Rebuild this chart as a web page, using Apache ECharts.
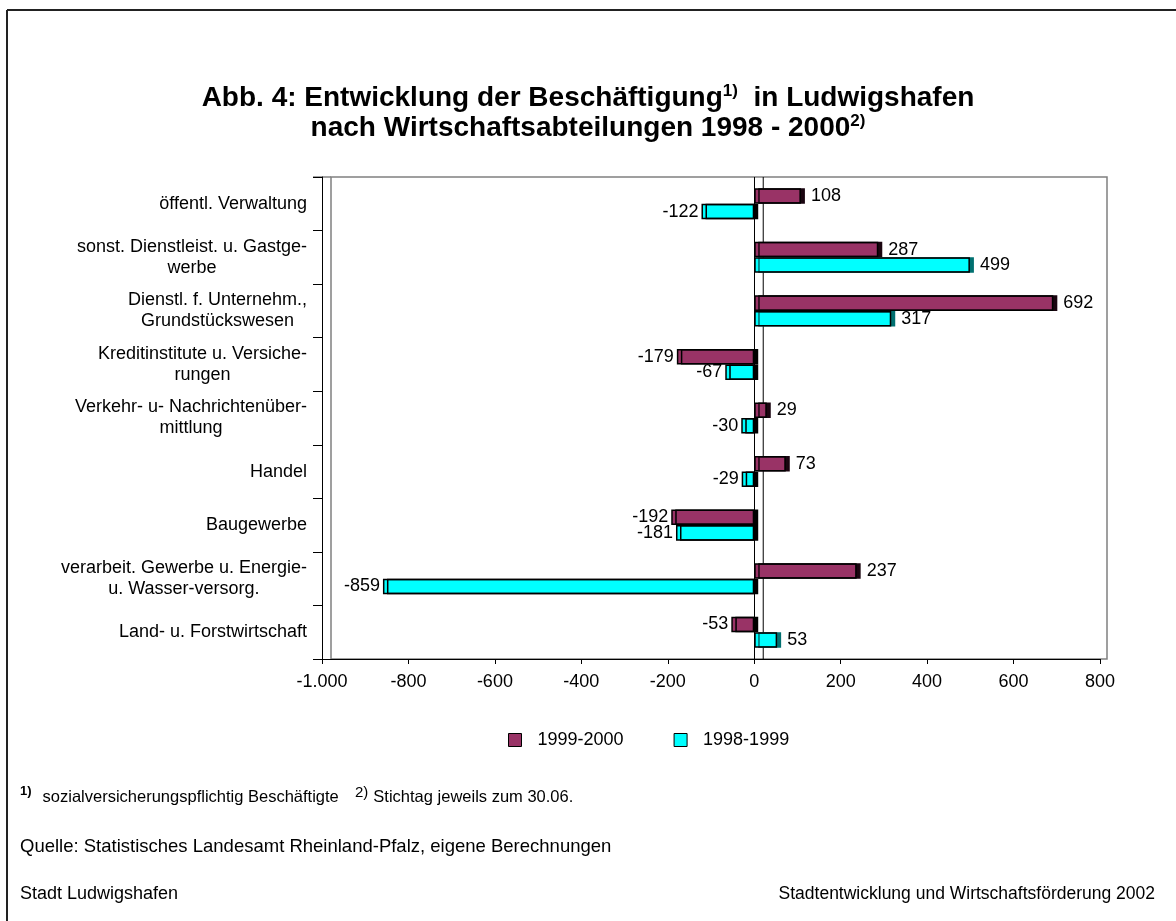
<!DOCTYPE html>
<html><head><meta charset="utf-8">
<script src="https://cdn.jsdelivr.net/npm/echarts@6/dist/echarts.min.js"></script>
<style>html,body{margin:0;padding:0;background:#fff}#c{width:1176px;height:921px}</style>
</head><body><div id="c"></div>
<script>
// Categories, bottom to top (ECharts category y axis starts at bottom)
const categories = [
  'Land- u. Forstwirtschaft',
  'verarbeit. Gewerbe u. Energie-\nu. Wasser-versorg.',
  'Baugewerbe',
  'Handel',
  'Verkehr- u- Nachrichtenüber-\nmittlung',
  'Kreditinstitute u. Versiche-\nrungen',
  'Dienstl. f. Unternehm.,\nGrundstückswesen',
  'sonst. Dienstleist. u. Gastge-\nwerbe',
  'öffentl. Verwaltung'
];
const seriesNames = ['1999-2000', '1998-1999'];
const values9900 = [-53, 237, -192, 73, 29, -179, 692, 287, 108];
const values9899 = [53, -859, -181, -29, -30, -67, 317, 499, -122];
const xMin = -1000, xMax = 800, xStep = 200;

const FONT = '"Liberation Sans", Arial, sans-serif';
const MAROON = '#993366', CYAN = '#00FFFF';

function fmtDE(v) {
  const s = Math.abs(v).toString().replace(/\B(?=(\d{3})+(?!\d))/g, '.');
  return (v < 0 ? '-' : '') + s;
}
function items(vals, posShadow) {
  return vals.map(v => ({
    value: v,
    itemStyle: { shadowColor: v < 0 ? '#000' : posShadow },
    label: { position: v < 0 ? 'left' : 'right', distance: v < 0 ? 3 : 10 }
  }));
}

const chart = echarts.init(document.getElementById('c'), null, { renderer: 'canvas' });
const barCommon = {
  type: 'bar',
  barWidth: '29%',
  barGap: '0%',
  label: { show: true, color: '#000', fontSize: 18, fontFamily: FONT, formatter: p => fmtDE(p.value) },
  emphasis: { disabled: true },
  animation: false
};
const txt = (size, weight) => ({ fontSize: size, fontWeight: weight || 'normal', fontFamily: FONT, color: '#000' });
const option = {
  backgroundColor: '#fff',
  animation: false,
  textStyle: { fontFamily: FONT },
  title: [
    {
      left: 'center', top: 78,
      text: '{m|Abb. 4: Entwicklung der Beschäftigung}{s|1)}{m|  in Ludwigshafen}\n{m|nach Wirtschaftsabteilungen 1998 - 2000}{s|2)}',
      textStyle: {
        rich: {
          m: Object.assign(txt(28, 'bold'), { lineHeight: 30, align: 'center' }),
          s: Object.assign(txt(17, 'bold'), { lineHeight: 30, align: 'center', verticalAlign: 'top', padding: [0, 0, 8, 0] })
        }
      }
    },
    {
      left: 15, top: 780,
      text: '{s|1)} {m|sozialversicherungspflichtig Beschäftigte}',
      textStyle: { rich: {
        m: Object.assign(txt(16.5), { lineHeight: 24, padding: [0, 0, 0, 6] }),
        s: Object.assign(txt(13, 'bold'), { lineHeight: 24, verticalAlign: 'top', padding: [0, 0, 6, 0] })
      } }
    },
    {
      left: 350, top: 780,
      text: '{s|2)} {m|Stichtag jeweils zum 30.06.}',
      textStyle: { rich: {
        m: Object.assign(txt(16.5), { lineHeight: 24 }),
        s: Object.assign(txt(15), { lineHeight: 24, verticalAlign: 'top', padding: [0, 0, 6, 0] })
      } }
    },
    { left: 15, top: 832, text: 'Quelle: Statistisches Landesamt Rheinland-Pfalz, eigene Berechnungen', textStyle: txt(18.5) },
    { left: 15, top: 880, text: 'Stadt Ludwigshafen', textStyle: txt(18) },
    { right: 16, top: 880, text: 'Stadtentwicklung und Wirtschaftsförderung 2002', textStyle: txt(17.5) }
  ],
  legend: {
    data: seriesNames,
    left: 503, top: 726,
    icon: 'rect', itemWidth: 13, itemHeight: 13, itemGap: 50,
    itemStyle: { borderColor: '#000', borderWidth: 1, shadowBlur: 0, shadowOffsetX: 0, shadowColor: 'rgba(0,0,0,0)' },
    textStyle: Object.assign(txt(18), { padding: [0, 0, 0, 11] })
  },
  grid: { left: 322, right: 76, top: 177, bottom: 262, containLabel: false, outerBoundsMode: 'none' },
  xAxis: {
    type: 'value', min: xMin, max: xMax, interval: xStep,
    axisLine: { show: true, onZero: false, lineStyle: { color: '#000', width: 1 } },
    axisTick: { show: true, length: 5, lineStyle: { color: '#000' } },
    axisLabel: Object.assign(txt(18), { margin: 14, formatter: fmtDE }),
    splitLine: { show: false }
  },
  yAxis: {
    type: 'category', data: categories,
    axisLine: { show: true, onZero: false, lineStyle: { color: '#000', width: 1 } },
    axisTick: { show: true, length: 9, inside: false, lineStyle: { color: '#000' } },
    axisLabel: {
      margin: 15, color: '#000',
      formatter: v => v.split('\n').map(l => '{c|' + l + '}').join('\n'),
      rich: { c: Object.assign(txt(18), { align: 'center', lineHeight: 21 }) }
    },
    splitLine: { show: false }
  },
  series: [
    Object.assign({}, barCommon, {
      name: seriesNames[0],
      data: items(values9900, '#1a0510'),
      itemStyle: { color: MAROON, borderColor: '#000', borderWidth: 1.5, shadowBlur: 0, shadowOffsetX: 4, shadowOffsetY: 0 },
      markLine: {
        silent: true, symbol: ['none', 'none'], label: { show: false },
        lineStyle: { color: '#000', width: 1, type: 'solid' },
        data: [{ xAxis: 0 }], animation: false
      }
    }),
    Object.assign({}, barCommon, {
      name: seriesNames[1],
      data: items(values9899, '#007070'),
      itemStyle: { color: CYAN, borderColor: '#000', borderWidth: 1.5, shadowBlur: 0, shadowOffsetX: 4, shadowOffsetY: 0 }
    })
  ]
};
chart.setOption(option);

// decorative frame: back wall of the 3D plot, zero line on back wall, page border
const x0 = chart.convertToPixel({ xAxisIndex: 0 }, 0);
const xL = chart.convertToPixel({ xAxisIndex: 0 }, xMin);
const xR = chart.convertToPixel({ xAxisIndex: 0 }, xMax);
const yTop = 177, yBot = 921 - 262;
chart.setOption({
  graphic: [
    { id: 'wall', type: 'rect', z: -1, silent: true,
      shape: { x: xL + 9, y: yTop, width: xR + 7 - (xL + 9), height: yBot - yTop },
      style: { fill: 'none', stroke: '#808080', lineWidth: 1.5 } },
    { id: 'topTick', type: 'line', z: -1, silent: true,
      shape: { x1: xL - 9, y1: yTop, x2: xL + 9, y2: yTop },
      style: { stroke: '#808080', lineWidth: 1.5 } },
    { id: 'zeroBack', type: 'line', z: -1, silent: true,
      shape: { x1: x0 + 9, y1: yTop, x2: x0 + 9, y2: yBot },
      style: { stroke: '#000', lineWidth: 1 } },
    { id: 'borderTop', type: 'line', silent: true,
      shape: { x1: 7, y1: 10, x2: 1176, y2: 10 },
      style: { stroke: '#222', lineWidth: 2 } },
    { id: 'borderLeft', type: 'line', silent: true,
      shape: { x1: 7, y1: 10, x2: 7, y2: 921 },
      style: { stroke: '#222', lineWidth: 2 } }
  ]
});
</script>
</body></html>
